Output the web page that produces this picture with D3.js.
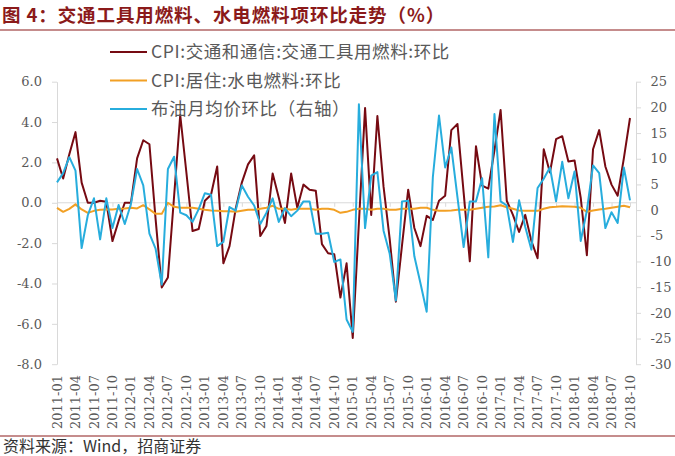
<!DOCTYPE html>
<html><head><meta charset="utf-8">
<script src="https://cdn.jsdelivr.net/npm/d3@7/dist/d3.min.js"></script>
<style>body{margin:0;background:#fff;} svg{display:block;}</style>
</head><body><svg id="c" width="675" height="456"></svg>
<script>
const months = [
"2011-01","2011-02","2011-03","2011-04","2011-05","2011-06","2011-07","2011-08","2011-09","2011-10","2011-11","2011-12",
"2012-01","2012-02","2012-03","2012-04","2012-05","2012-06","2012-07","2012-08","2012-09","2012-10","2012-11","2012-12",
"2013-01","2013-02","2013-03","2013-04","2013-05","2013-06","2013-07","2013-08","2013-09","2013-10","2013-11","2013-12",
"2014-01","2014-02","2014-03","2014-04","2014-05","2014-06","2014-07","2014-08","2014-09","2014-10","2014-11","2014-12",
"2015-01","2015-02","2015-03","2015-04","2015-05","2015-06","2015-07","2015-08","2015-09","2015-10","2015-11","2015-12",
"2016-01","2016-02","2016-03","2016-04","2016-05","2016-06","2016-07","2016-08","2016-09","2016-10","2016-11","2016-12",
"2017-01","2017-02","2017-03","2017-04","2017-05","2017-06","2017-07","2017-08","2017-09","2017-10","2017-11","2017-12",
"2018-01","2018-02","2018-03","2018-04","2018-05","2018-06","2018-07","2018-08","2018-09","2018-10"];

// CPI:交通和通信:交通工具用燃料:环比 (left axis, %)
const cpiFuel = [
 2.2, 1.2, 2.4, 3.5, 1.0, 0.0, 0.0, 0.1, 0.05, -1.9,
 -0.9, 0.0, 0.0, 2.2, 3.1, 2.9, -0.8, -4.2, -3.7, 0.3,
 4.35, 1.5, -1.4, -1.3, 0.1, 0.4, 1.8, -3.0, -2.15, -0.3,
 1.0, 1.9, 2.35, -1.65, -1.15, 1.45, 0.25, -1.0, 1.45, -0.25,
 0.9, 0.65, 0.6, -2.05, -2.5, -2.55, -4.7, -3.0, -6.7, -1.0,
 4.7, -0.6, 4.3, 0.8, -1.8, -4.9, -2.1, 0.65, -1.25, -2.15,
 -0.65, -0.85, 0.1, 0.35, 3.6, 3.9, 0.5, -2.9, 2.8, 0.85,
 0.7, 2.6, 4.6, 0.1, -0.6, -1.45, -0.6, -1.9, -2.75, 2.65,
 1.5, 3.15, 3.3, 2.05, 2.1, 0.25, -2.6, 2.65, 3.6, 1.8,
 0.9, 0.35, 2.2, 4.2];

// CPI:居住:水电燃料:环比 (left axis, %)
const cpiUtility = [
 -0.25, -0.45, -0.3, -0.08, -0.33, -0.5, -0.4, -0.35, -0.33, -0.33,
 -0.3, -0.28, -0.25, -0.28, -0.12, -0.33, -0.55, -0.55, 0.0, -0.2,
 -0.25, -0.25, -0.25, -0.3, -0.35, -0.38, -0.4, -0.42, -0.42, -0.45,
 -0.4, -0.35, -0.35, -0.3, -0.25, -0.15, -0.3, -0.3, -0.35, -0.3,
 -0.3, -0.3, -0.35, -0.3, -0.3, -0.35, -0.5, -0.45, -0.35, -0.3,
 -0.3, -0.35, -0.3, -0.3, -0.35, -0.35, -0.3, -0.3, -0.3, -0.25,
 -0.25, -0.35, -0.4, -0.4, -0.38, -0.35, -0.35, -0.35, -0.3, -0.25,
 -0.2, -0.18, -0.12, -0.22, -0.3, -0.38, -0.4, -0.4, -0.4, -0.3,
 -0.22, -0.2, -0.17, -0.18, -0.2, -0.25, -0.45, -0.38, -0.33, -0.3,
 -0.25, -0.2, -0.15, -0.22];

// 布油月均价环比 (right axis, %)
const brent = [
 5.4, 7.2, 10.3, 7.7, -7.4, -1.0, 2.3, -5.7, 2.3, -3.5,
 1.0, -2.7, 1.2, 8.0, 4.8, -4.6, -7.5, -14.5, 8.0, 10.4,
 -0.5, -1.0, -2.3, 0.2, 3.3, 3.0, -7.0, -6.2, 0.6, -0.1,
 4.8, 2.6, 0.9, -2.7, -0.5, 2.3, -2.3, 0.4, -1.2, -0.1,
 1.7, 1.7, -4.6, -4.6, -4.4, -10.1, -9.6, -21.3, -23.7, 20.6,
 -3.5, 6.7, 7.4, -4.0, -8.5, -17.6, 1.7, 1.8, -9.0, -14.3,
 -19.8, 6.4, 18.4, 8.3, 12.2, 2.5, -7.2, 1.7, 1.7, 6.2,
 -9.2, 18.7, 1.7, 0.9, -6.2, 1.9, -3.3, -7.7, 4.3, 6.1,
 8.3, 1.7, 9.4, 2.3, 7.5, -6.0, -0.1, 8.7, 7.2, -3.5,
 -0.4, -2.5, 8.3, 1.9];

const leftTicks = [-8, -6, -4, -2, 0, 2, 4, 6];
const rightTicks = [-30, -25, -20, -15, -10, -5, 0, 5, 10, 15, 20, 25];
const xTickLabels = months.filter((m, i) => i % 3 === 0);

const seriesNames = ["CPI:交通和通信:交通工具用燃料:环比", "CPI:居住:水电燃料:环比", "布油月均价环比（右轴）"];
const seriesColors = ["#760A12", "#F2A024", "#27ADDD"];

const titleText = "图 4：交通工具用燃料、水电燃料项环比走势（%）";
const sourceText = "资料来源：Wind，招商证券";

const svg = d3.select("#c");
const L = 57, R = 636, T = 81.7, B = 364.2;

const x = d3.scalePoint().domain(months).range([L, 630]);
const yL = d3.scaleLinear().domain([-8, 6]).range([B, T]);
const yR = d3.scaleLinear().domain([-30, 25]).range([B, T]);

const axisColor = "#D9D9D9";
const labelColor = "#595959";
const numFont = "'DejaVu Serif', serif";
const cjkFont = "'Noto Sans CJK SC', 'Noto Sans', sans-serif";

// Title
svg.append("text").attr("x", 2).attr("y", 21.5)
  .attr("font-family", cjkFont).attr("font-weight", "bold").attr("font-size", 18.5)
  .attr("letter-spacing", 0.9)
  .attr("fill", "#8B1A1A").text(titleText);
svg.append("line").attr("x1", 0).attr("x2", 675).attr("y1", 30).attr("y2", 30)
  .attr("stroke", "#8B1A1A").attr("stroke-width", 1.2);

// Left axis
const gL = svg.append("g").attr("transform", `translate(${L},0)`)
  .call(d3.axisLeft(yL).tickValues(leftTicks).tickFormat(d => d.toFixed(1)).tickSize(5).tickSizeOuter(0).tickPadding(10));
gL.select(".domain").attr("stroke", axisColor);
gL.selectAll(".tick line").attr("stroke", axisColor);
gL.selectAll(".tick text").attr("font-family", numFont).attr("font-size", 13).attr("fill", labelColor);

// Right axis
const gR = svg.append("g").attr("transform", `translate(${R},0)`)
  .call(d3.axisRight(yR).tickValues(rightTicks).tickFormat(d => String(d)).tickSize(5).tickSizeOuter(0).tickPadding(9.5));
gR.select(".domain").attr("stroke", axisColor);
gR.selectAll(".tick line").attr("stroke", axisColor);
gR.selectAll(".tick text").attr("font-family", numFont).attr("font-size", 13).attr("fill", labelColor);

// Category axis line at zero
svg.append("line").attr("x1", L).attr("x2", R).attr("y1", yL(0)).attr("y2", yL(0))
  .attr("stroke", axisColor).attr("stroke-width", 1);
const gX = svg.append("g").attr("transform", `translate(0,${yL(0)})`)
  .call(d3.axisBottom(x).tickValues(xTickLabels).tickFormat("").tickSize(4).tickSizeOuter(0));
gX.select(".domain").remove();
gX.selectAll(".tick line").attr("stroke", axisColor);

// X labels (rotated) at bottom
svg.append("g").selectAll("text").data(xTickLabels).join("text")
  .attr("transform", d => `translate(${x(d)},375) rotate(-90)`)
  .attr("text-anchor", "end").attr("dy", "0.35em")
  .attr("font-family", numFont).attr("font-size", 13).attr("fill", labelColor)
  .text(d => d);

// Lines
const lineL = d3.line().x((d, i) => x(months[i])).y(d => yL(d));
const lineR = d3.line().x((d, i) => x(months[i])).y(d => yR(d));
svg.append("path").datum(cpiFuel).attr("d", lineL).attr("fill", "none")
  .attr("stroke", seriesColors[0]).attr("stroke-width", 2).attr("stroke-linejoin", "round");
svg.append("path").datum(cpiUtility).attr("d", lineL).attr("fill", "none")
  .attr("stroke", seriesColors[1]).attr("stroke-width", 2).attr("stroke-linejoin", "round");
svg.append("path").datum(brent).attr("d", lineR).attr("fill", "none")
  .attr("stroke", seriesColors[2]).attr("stroke-width", 2).attr("stroke-linejoin", "round");

// Legend
const lg = svg.append("g").selectAll("g").data(seriesNames).join("g")
  .attr("transform", (d, i) => `translate(110,${52 + i * 28.5})`);
lg.append("line").attr("x1", 0).attr("x2", 37).attr("y1", 0).attr("y2", 0)
  .attr("stroke", (d, i) => seriesColors[i]).attr("stroke-width", 2);
lg.append("text").attr("x", 41).attr("dy", "0.35em")
  .attr("font-family", cjkFont).attr("font-size", 17.5).attr("letter-spacing", 0.6).attr("fill", labelColor)
  .text(d => d);

// Source
svg.append("line").attr("x1", 0).attr("x2", 675).attr("y1", 436).attr("y2", 436)
  .attr("stroke", "#8B1A1A").attr("stroke-width", 1);
svg.append("text").attr("x", 3).attr("y", 452)
  .attr("font-family", cjkFont).attr("font-size", 16).attr("fill", "#333")
  .text(sourceText);
</script></body></html>
